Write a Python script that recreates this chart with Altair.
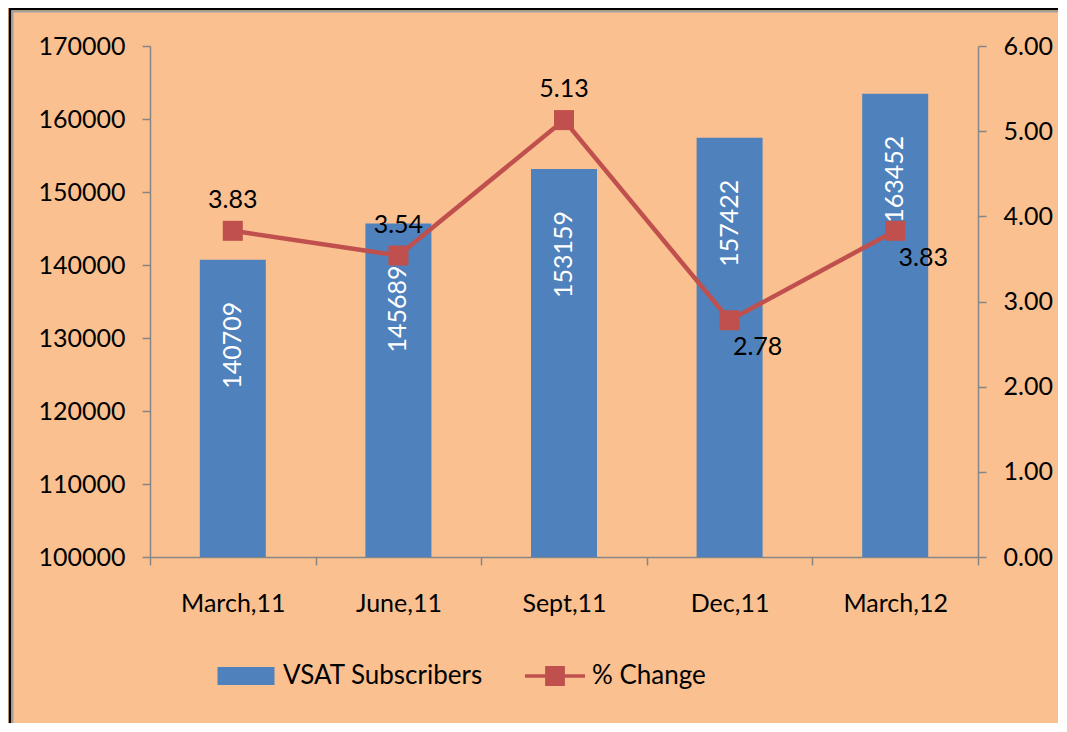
import altair as alt
import pandas as pd

# ---- data ----
periods = ["March,11", "June,11", "Sept,11", "Dec,11", "March,12"]
subscribers = [140709, 145689, 153159, 157422, 163452]
pct_change = [3.83, 3.54, 5.13, 2.78, 3.83]
left_ticks = [100000, 110000, 120000, 130000, 140000, 150000, 160000, 170000]
right_ticks = [0, 1, 2, 3, 4, 5, 6]
series_names = ["VSAT Subscribers", "% Change"]
labels_below = ["Dec,11", "March,12"]
labels_above = [p for p in periods if p not in labels_below]

BLUE = "#4F81BD"
RED = "#C0504D"
FONT = "Lato"

df = pd.DataFrame({"period": periods, "subs": subscribers, "pct": pct_change})
legend_df = pd.DataFrame({"series": series_names})
frame_df = pd.DataFrame({"k": [0]})

x = alt.X(
    "period:N",
    sort=periods,
    scale=alt.Scale(paddingInner=0, paddingOuter=0),
    axis=alt.Axis(title=None, labelAngle=0, tickBand="extent", labelPadding=26),
)

y_left = alt.Y(
    "subs:Q",
    scale=alt.Scale(domain=[100000, 170000], zero=False, nice=False),
    axis=alt.Axis(orient="left", values=left_ticks, format="d", title=None, labelPadding=17),
)
y_right = alt.Y(
    "pct:Q",
    scale=alt.Scale(domain=[0, 6], nice=False),
    axis=alt.Axis(orient="right", values=right_ticks, format=".2f", title=None, labelPadding=17),
)

bars = alt.Chart(df).mark_bar(size=66, color=BLUE, clip=True).encode(x=x, y=y_left)
bar_text = alt.Chart(df).mark_text(
    angle=270, align="right", baseline="middle", dx=-42, color="white", fontSize=25, font=FONT
).encode(x=x, y="subs:Q", text=alt.Text("subs:Q", format="d"))
left_layer = alt.layer(bars, bar_text)

line = alt.Chart(df).mark_line(color=RED, strokeWidth=4.5).encode(x=x, y=y_right)
pts = alt.Chart(df).mark_point(shape="square", filled=True, size=400, color=RED, opacity=1).encode(
    x=x, y="pct:Q"
)
lab_above = alt.Chart(df).transform_filter(
    alt.FieldOneOfPredicate(field="period", oneOf=labels_above)
).mark_text(dy=-31, color="black", fontSize=25, font=FONT).encode(
    x=x, y="pct:Q", text=alt.Text("pct:Q", format=".2f")
)
lab_below = alt.Chart(df).transform_filter(
    alt.FieldOneOfPredicate(field="period", oneOf=labels_below)
).mark_text(dx=28, dy=27, color="black", fontSize=25, font=FONT).encode(
    x=x, y="pct:Q", text=alt.Text("pct:Q", format=".2f")
)
right_layer = alt.layer(line, pts, lab_above, lab_below)

rect_path = "M-0.95,-0.3H0.95V0.3H-0.95Z"
line_path = "M-1,-0.06H1V0.06H-1Z M-0.33,-0.33H0.33V0.33H-0.33Z"
leg = alt.Legend(
    title=None, orient="none", legendX=66, legendY=600, direction="horizontal",
    labelFontSize=26, labelFont=FONT, labelColor="black", labelOffset=7,
    columnPadding=42, symbolSize=3600, symbolStrokeWidth=0, symbolOpacity=1,
    labelLimit=400, padding=0,
)
legend_layer = alt.Chart(legend_df).transform_filter("false").mark_point(filled=True, opacity=1).encode(
    color=alt.Color("series:N", scale=alt.Scale(domain=series_names, range=[BLUE, RED]), legend=leg),
    shape=alt.Shape("series:N", scale=alt.Scale(domain=series_names, range=[rect_path, line_path]), legend=leg),
)

# decorative frame on the top and left edges (the reference is cropped on the right and bottom)
frame_top = alt.Chart(frame_df).mark_rule(color="black", strokeWidth=2.5).encode(
    x=alt.value(-141), x2=alt.value(930), y=alt.value(-37)
)
frame_left = alt.Chart(frame_df).mark_rule(color="black", strokeWidth=2.5).encode(
    x=alt.value(-140), y=alt.value(-38), y2=alt.value(700)
)
inner_top = alt.Chart(frame_df).mark_rule(color="#A0A0A0", strokeWidth=2).encode(
    x=alt.value(-138.5), x2=alt.value(930), y=alt.value(-34.5)
)
inner_left = alt.Chart(frame_df).mark_rule(color="#A0A0A0", strokeWidth=2).encode(
    x=alt.value(-137.5), y=alt.value(-35.5), y2=alt.value(700)
)

chart = alt.layer(
    left_layer, right_layer, legend_layer, frame_top, frame_left, inner_top, inner_left
).resolve_scale(
    y="independent"
).properties(
    width=828,
    height=511,
    background="#FAC090",
    padding={"left": 142, "top": 38, "right": 80, "bottom": 166},
    autosize=alt.AutoSizeParams(type="none"),
).configure_view(
    fill="#FDEADA", stroke="transparent"
).configure_axis(
    labelFont=FONT, labelFontSize=25, labelColor="black",
    domainColor="#868686", tickColor="#868686", domainWidth=1.5, tickWidth=1.5,
    grid=False, tickSize=8,
)

chart.save("out.html", embed_options={"renderer": "svg", "actions": False})
